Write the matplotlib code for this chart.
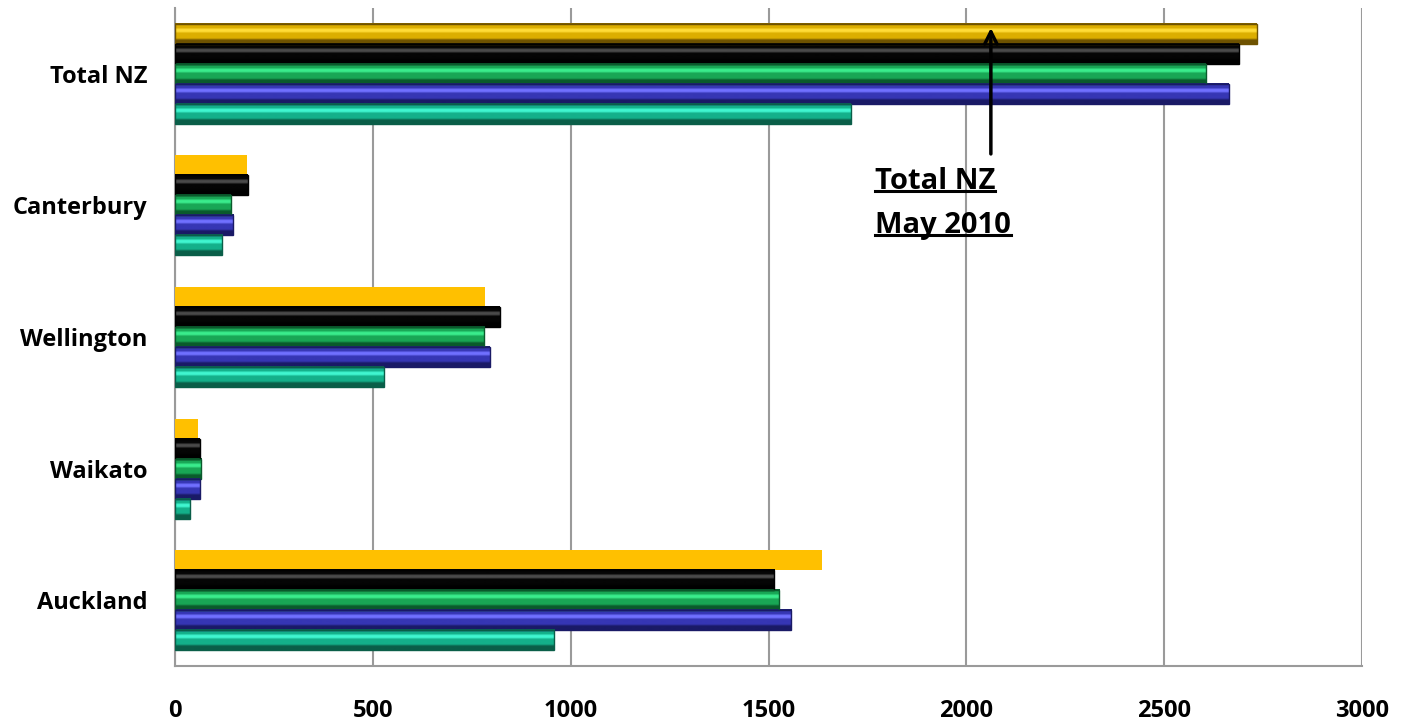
import numpy as np
import matplotlib
matplotlib.use("Agg")
import matplotlib.pyplot as plt
from matplotlib.colors import LinearSegmentedColormap
from matplotlib.lines import Line2D

# ---------------- data ----------------
categories = ["Auckland", "Waikato", "Wellington", "Canterbury", "Total NZ"]
# series listed from top bar of each group to bottom bar
series_names = ["Series 1", "Series 2", "Series 3", "Series 4", "Series 5"]
series1 = [1635, 58, 783, 182, 2734]   # gold / yellow
series2 = [1514, 63, 821, 184, 2689]   # black
series3 = [1527, 66, 781, 141, 2605]   # green
series4 = [1557, 62, 796, 147, 2663]   # blue
series5 = [958, 38, 528, 119, 1708]    # teal
xticks = [0, 500, 1000, 1500, 2000, 2500, 3000]
annot_lines = ["Total NZ", "May 2010"]

all_series = [series1, series2, series3, series4, series5]

# bevel colour profiles (dark, mid, light)
profiles = [
    ("#6e5200", "#dcae00", "#ffdc38"),
    ("#000000", "#050505", "#4a4a4a"),
    ("#0a5a2c", "#19a655", "#3aec8c"),
    ("#1a1a66", "#3636b4", "#7070ff"),
    ("#0a5e48", "#14b08a", "#40f6d0"),
]
flat_yellow = "#FFC000"

def make_cmap(dark, mid, light):
    stops = [(0.0, dark), (0.18, dark), (0.28, mid), (0.52, mid),
             (0.6, light), (0.7, light), (0.78, mid), (0.9, mid), (1.0, dark)]
    return LinearSegmentedColormap.from_list("bev", stops)

cmaps = [make_cmap(*p) for p in profiles]
grad = np.linspace(0, 1, 64).reshape(-1, 1)

W, H = 1402, 725
fig = plt.figure(figsize=(W / 100, H / 100), dpi=100)
ax = fig.add_axes([175 / W, 1 - 666 / H, (1362 - 175) / W, (666 - 8) / H])

fname = ["Open Sans", "DejaVu Sans"]
bar_h = 0.152
n = len(all_series)
y_base = np.arange(len(categories))

for si, vals in enumerate(all_series):
    offset = (n - 1) / 2 * bar_h - si * bar_h
    for ci, v in enumerate(vals):
        yc = y_base[ci] + offset
        y0, y1 = yc - bar_h / 2, yc + bar_h / 2
        if si == 0 and categories[ci] != "Total NZ":
            ax.barh(yc, v, height=bar_h, color=flat_yellow, edgecolor="none", zorder=3)
        else:
            ax.imshow(grad, cmap=cmaps[si], origin="lower", aspect="auto",
                      extent=[0, v, y0, y1], interpolation="bilinear", zorder=3)
            ax.barh(yc, v, height=bar_h, fill=False, edgecolor=profiles[si][0],
                    linewidth=1.0, zorder=4)

ax.set_xlim(0, 3000)
ax.set_ylim(-0.5, len(categories) - 0.5)
ax.set_xticks(xticks)
ax.set_xticklabels([str(t) for t in xticks], fontsize=17, fontweight="bold", family=fname)
ax.set_yticks(y_base)
ax.set_yticklabels(categories, fontsize=17, fontweight="bold", family=fname)
ax.tick_params(axis="both", length=0)
ax.tick_params(axis="x", pad=24)
ax.tick_params(axis="y", pad=20)
ax.grid(axis="x", color="#9a9a9a", linewidth=1.5, zorder=0)
ax.set_axisbelow(True)
for s in ["top", "right"]:
    ax.spines[s].set_visible(False)
for s in ["left", "bottom"]:
    ax.spines[s].set_color("#9a9a9a")
    ax.spines[s].set_linewidth(1.5)

# annotation arrow
ax.annotate("", xy=(2062, 4.37), xytext=(2062, 3.37),
            arrowprops=dict(arrowstyle="->", color="black", lw=2.5,
                            mutation_scale=22), zorder=6)

txts = []
ty = [3.18, 2.845]
for line, yy in zip(annot_lines, ty):
    t = ax.text(1769, yy, line, fontsize=21, fontweight="bold", family=fname,
                ha="left", va="center", zorder=6)
    txts.append(t)

fig.canvas.draw()
renderer = fig.canvas.get_renderer()
inv = fig.transFigure.inverted()
for t in txts:
    bb = t.get_window_extent(renderer)
    (x0, y0), (x1, _) = inv.transform([(bb.x0, bb.y0 + 5), (bb.x1, bb.y0 + 5)])
    fig.add_artist(Line2D([x0, x1], [y0, y0], color="black", lw=2.2))

fig.savefig("out.png", dpi=100)
